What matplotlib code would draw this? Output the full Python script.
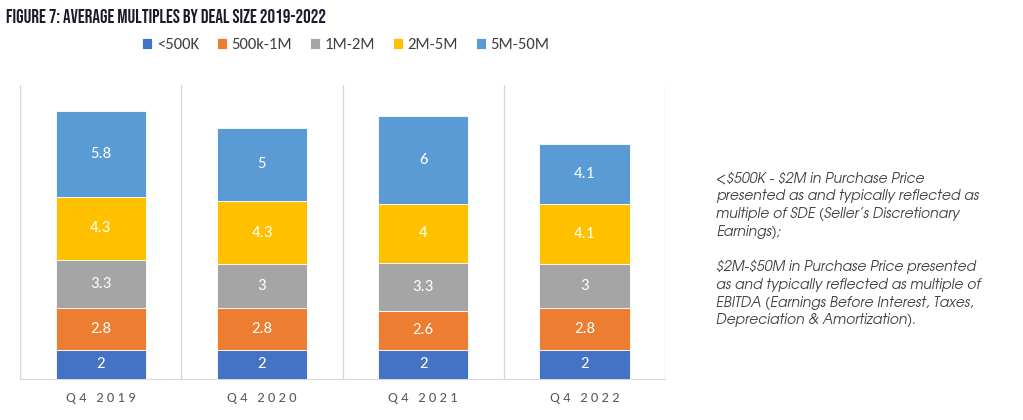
import matplotlib.pyplot as plt
import numpy as np

quarters = ['Q4 2019', 'Q4 2020', 'Q4 2021', 'Q4 2022']
series = ['<500K', '500k-1M', '1M-2M', '2M-5M', '5M-50M']
under_500k = [2, 2, 2, 2]
k500_1m = [2.8, 2.8, 2.6, 2.8]
m1_2m = [3.3, 3, 3.3, 3]
m2_5m = [4.3, 4.3, 4, 4.1]
m5_50m = [5.8, 5, 6, 4.1]
colors = ['#4472C4', '#ED7D31', '#A5A5A5', '#FFC000', '#5B9BD5']

note = ("<$500K - $2M in Purchase Price\n"
        "presented as and typically reflected as\n"
        "multiple of SDE (Seller\u2019s Discretionary\n"
        "Earnings);\n"
        "\n"
        "$2M-$50M in Purchase Price presented\n"
        "as and typically reflected as multiple of\n"
        "EBITDA (Earnings Before Interest, Taxes,\n"
        "Depreciation & Amortization).")

body_font = ['Carlito', 'DejaVu Sans']

fig = plt.figure(figsize=(10.23, 4.2), dpi=100)
ax = fig.add_axes([0.0196, 0.0976, 0.6305, 0.70])

x = np.arange(len(quarters))
bottom = np.zeros(len(quarters))
for name, vals, c in zip(series, [under_500k, k500_1m, m1_2m, m2_5m, m5_50m], colors):
    bars = ax.bar(x, vals, width=0.56, bottom=bottom, color=c, label=name,
                  edgecolor='white', linewidth=0.6, zorder=3)
    ax.bar_label(bars, labels=[f'{v:g}' for v in vals], label_type='center',
                 color='white', fontsize=12, family=body_font)
    bottom += np.array(vals)

for b in np.arange(-0.5, len(quarters), 1):
    ax.axvline(b, color='#D9D9D9', linewidth=1, zorder=1)

ax.set_xlim(-0.5, len(quarters) - 0.5)
ax.set_ylim(0, 20)
ax.set_yticks([])
ax.set_xticks(x)
# spaced-out letters like the original axis labels
ax.set_xticklabels([' '.join(q) for q in quarters], color='#595959',
                   fontsize=10.5, family=body_font)
ax.tick_params(axis='x', length=0, pad=9)
for s in ['top', 'left', 'right']:
    ax.spines[s].set_visible(False)
ax.spines['bottom'].set_color('#D9D9D9')

ax.legend(loc='center', bbox_to_anchor=(0.505, 1.135), ncol=5, frameon=False,
          prop={'family': body_font, 'size': 12}, handlelength=0.6,
          handleheight=0.6, handletextpad=0.3, columnspacing=1.05,
          labelcolor='#404040')

fig.text(0.006, 0.963, 'FIGURE 7: AVERAGE MULTIPLES BY DEAL SIZE 2019-2022',
         fontsize=13.6, family=['Bebas Neue', 'DejaVu Sans'],
         color='#1a1a2e', va='center')

fig.text(0.700, 0.592, note, fontsize=10, style='italic',
         family=['TeX Gyre Adventor', 'DejaVu Sans'], color='#404040',
         va='top', linespacing=1.33, parse_math=False)

plt.savefig('out.png')
